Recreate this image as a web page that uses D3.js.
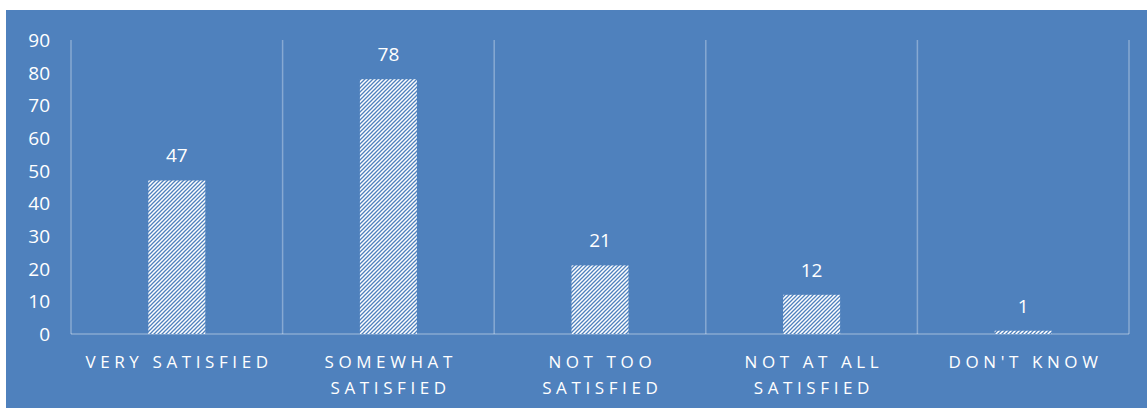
<!DOCTYPE html>
<html>
<head>
<meta charset="utf-8">
<script src="https://cdn.jsdelivr.net/npm/d3@7"></script>
<style>
  body { margin: 0; background: #fff; }
  text { font-family: "Open Sans", "Liberation Sans", sans-serif; fill: #fff; }
</style>
</head>
<body>
<div id="chart"></div>
<script>
var categories = [["VERY SATISFIED"], ["SOMEWHAT", "SATISFIED"], ["NOT TOO", "SATISFIED"], ["NOT AT ALL", "SATISFIED"], ["DON'T KNOW"]];
var values = [47, 78, 21, 12, 1];
var yTicks = [0, 10, 20, 30, 40, 50, 60, 70, 80, 90];

var width = 1147, height = 409;
var margin = {left: 71, right: 18, top: 40, bottom: 75};

var svg = d3.select("#chart").append("svg")
    .attr("width", width)
    .attr("height", height);

// hatch pattern for the bars
var defs = svg.append("defs");
var pat = defs.append("pattern")
    .attr("id", "hatch")
    .attr("patternUnits", "userSpaceOnUse")
    .attr("width", 4).attr("height", 4);
pat.append("rect").attr("width", 4).attr("height", 4).attr("fill", "#fff");
pat.append("path")
    .attr("d", "M-1,1 l2,-2 M0,4 l4,-4 M3,5 l2,-2")
    .attr("stroke", "#4f81bd")
    .attr("stroke-width", 1.3);

svg.append("rect")
    .attr("x", 6).attr("y", 10)
    .attr("width", width - 6).attr("height", 398)
    .attr("fill", "#4f81bd");

var x = d3.scaleBand()
    .domain(d3.range(categories.length))
    .range([margin.left, width - margin.right])
    .paddingInner(0).paddingOuter(0);

var y = d3.scaleLinear()
    .domain([0, 90])
    .range([height - margin.bottom, margin.top]);

// vertical gridlines at category boundaries
var bounds = d3.range(categories.length + 1).map(function(i) { return margin.left + i * x.bandwidth(); });
svg.selectAll(".vgrid")
    .data(bounds)
    .enter().append("line")
    .attr("x1", function(d) { return d; })
    .attr("x2", function(d) { return d; })
    .attr("y1", y(90)).attr("y2", y(0))
    .attr("stroke", "rgba(255,255,255,0.32)")
    .attr("stroke-width", 1.5);

svg.append("line")
    .attr("x1", margin.left).attr("x2", width - margin.right)
    .attr("y1", y(0)).attr("y2", y(0))
    .attr("stroke", "rgba(255,255,255,0.32)")
    .attr("stroke-width", 1.5);

// y axis labels
svg.selectAll(".ytick")
    .data(yTicks)
    .enter().append("text")
    .attr("x", 50)
    .attr("y", function(d) { return y(d); })
    .attr("dy", "0.36em")
    .attr("text-anchor", "end")
    .style("font-size", "19px")
    .text(function(d) { return d; });

var barW = 57;
svg.selectAll(".bar")
    .data(values)
    .enter().append("rect")
    .attr("x", function(d, i) { return x(i) + x.bandwidth() / 2 - barW / 2; })
    .attr("y", function(d) { return y(d); })
    .attr("width", barW)
    .attr("height", function(d) { return y(0) - y(d); })
    .attr("fill", "url(#hatch)");

svg.selectAll(".val")
    .data(values)
    .enter().append("text")
    .attr("x", function(d, i) { return x(i) + x.bandwidth() / 2; })
    .attr("y", function(d) { return y(d) - 18; })
    .attr("text-anchor", "middle")
    .style("font-size", "19px")
    .text(function(d) { return d; });

// category labels
var cat = svg.selectAll(".cat")
    .data(categories)
    .enter().append("text")
    .attr("text-anchor", "middle")
    .style("font-size", "17px")
    .style("letter-spacing", "4.6px");
cat.selectAll("tspan")
    .data(function(d, i) { return d.map(function(s) { return {s: s, i: i}; }); })
    .enter().append("tspan")
    .attr("x", function(d) { return x(d.i) + x.bandwidth() / 2 + 2.3; })
    .attr("y", function(d, j) { return 368 + j * 26; })
    .text(function(d) { return d.s; });
</script>
</body>
</html>
